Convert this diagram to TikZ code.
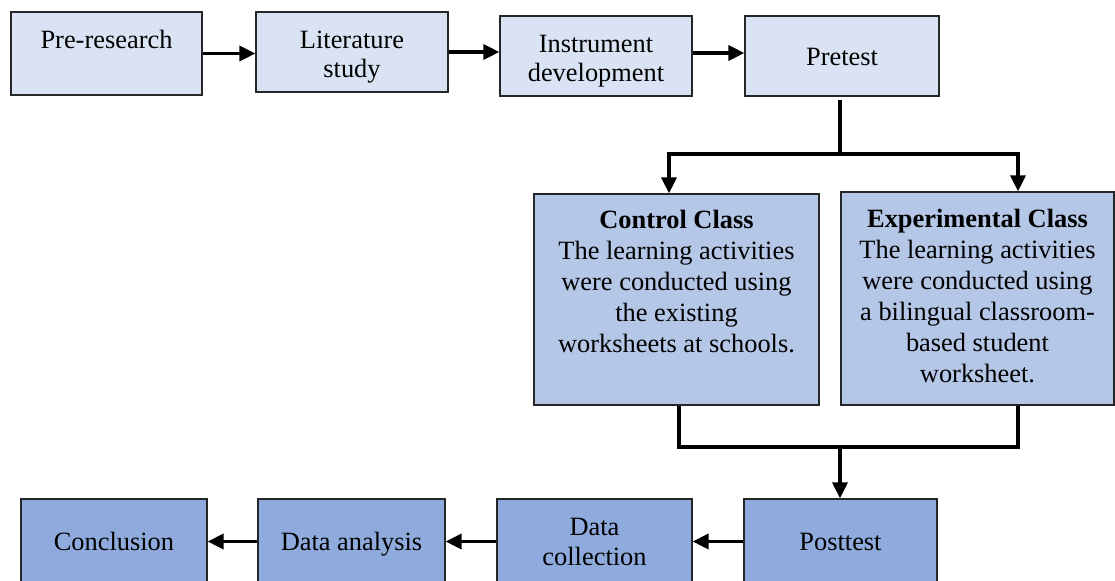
\documentclass[tikz,border=0pt]{standalone}
\usepackage{fontspec}
\setmainfont{Liberation Serif}
\usetikzlibrary{arrows.meta}
\definecolor{cTop}{HTML}{DAE3F3}
\definecolor{cMid}{HTML}{B4C7E7}
\definecolor{cBot}{HTML}{8FAADC}
\newcommand\tpstrut{\rule{0pt}{9.3pt}}
\tikzset{
  box/.style={draw=black!85, line width=0.6pt, inner sep=0pt, align=center,
    font=\fontsize{13.2}{15}\selectfont},
  topbox/.style={box, fill=cTop},
  midbox/.style={box, fill=cMid},
  botbox/.style={box, fill=cBot},
  oneline/.style={text height=9.3pt, text depth=0pt},
  txt/.style={inner sep=0pt, align=center, anchor=north},
  conn/.style={line width=1.7pt, line join=miter},
  arr/.style={conn, -{Triangle[width=7.5pt,length=8pt]}},
}
\begin{document}
\begin{tikzpicture}[x=0.5pt,y=0.5pt]
\useasboundingbox (0,0) rectangle (1115,-580);
% top row
\node[topbox, minimum width=95.5pt, minimum height=41.5pt] (pre) at (106.5,-53.5) {};
\node[txt, font=\fontsize{13.2}{14.5}\selectfont] (preT) at (106.5,-29.4) {\tpstrut Pre-research};
\node[topbox, minimum width=96pt, minimum height=40pt] (lit) at (352,-52) {};
\node[txt, font=\fontsize{13.2}{14.5}\selectfont] (litT) at (352,-29.4) {\tpstrut Literature\\study};
\node[topbox, minimum width=96pt, minimum height=40pt] (ins) at (596,-56) {};
\node[txt, font=\fontsize{13.2}{14.5}\selectfont] (insT) at (596,-33.4) {\tpstrut Instrument\\development};
\node[topbox, oneline, minimum width=97pt, minimum height=40pt] (pt) at (842,-56) {Pretest};
% middle row
\node[midbox, minimum width=142.5pt, minimum height=105.5pt] (ctl) at (676.5,-299.5) {};
\node[txt, font=\fontsize{13.2}{15.5}\selectfont] (ctlT) at (676.5,-209.4)
  {\tpstrut\textbf{Control Class}\\The learning activities\\were conducted using\\the existing\\worksheets at schools.};
\node[midbox, minimum width=136.5pt, minimum height=106.5pt] (exp) at (977.5,-298.5) {};
\node[txt, font=\fontsize{13.2}{15.5}\selectfont] (expT) at (977.5,-208.4)
  {\tpstrut\textbf{Experimental Class}\\The learning activities\\were conducted using\\a bilingual classroom-\\based student\\worksheet.};
% bottom row
\node[botbox, oneline, minimum width=96.5pt, minimum height=42.5pt] (post) at (840.5,-541.5) {Posttest};
\node[botbox, minimum width=97.5pt, minimum height=42.5pt] (dc) at (594.5,-541.5) {Data\\collection};
\node[botbox, oneline, minimum width=93.5pt, minimum height=42.5pt] (da) at (351.5,-541.5) {Data analysis};
\node[botbox, oneline, minimum width=93pt, minimum height=42.5pt] (con) at (114,-541.5) {Conclusion};
% connectors top row
\draw[arr] (pre.east) -- (pre.east -| lit.west);
\draw[arr] (lit.east) -- (lit.east -| ins.west);
\draw[arr] ([yshift=1.5pt]ins.east) -- ([yshift=1.5pt]pt.west);
% split
\coordinate (split) at (840,-154);
\draw[conn] ([xshift=-1pt,yshift=-1.5pt]pt.south) -- (split);
\draw[arr] (split) -| ([xshift=-3.75pt]ctl.north);
\draw[arr] (split) -| ([xshift=20.25pt]exp.north);
% merge
\coordinate (merge) at (840,-447);
\draw[conn] ([xshift=1.25pt]ctl.south) |- (merge) -| ([xshift=20.25pt]exp.south);
\draw[arr] (merge) -- (merge |- post.north);
% bottom row
\draw[arr] (post.west) -- (dc.east);
\draw[arr] (dc.west) -- (da.east);
\draw[arr] (da.west) -- (con.east);
\end{tikzpicture}
\end{document}
